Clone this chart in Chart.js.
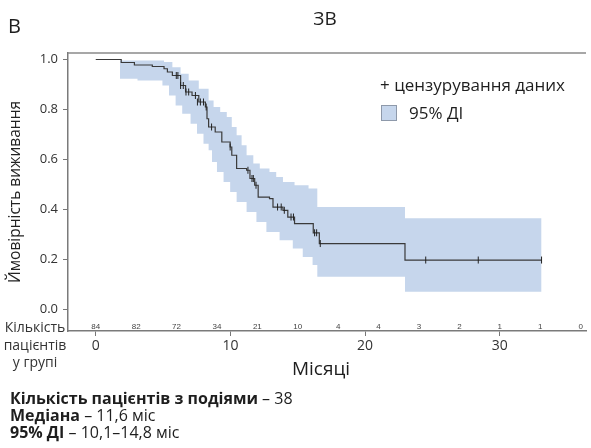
<!DOCTYPE html>
<html lang="uk">
<head>
<meta charset="utf-8">
<script src="https://cdn.jsdelivr.net/npm/chart.js@4.4.1/dist/chart.umd.min.js"></script>
<style>
  html, body { margin: 0; padding: 0; background: #fff; }
  #wrap { position: relative; width: 591px; height: 448px; font-family: "Open Sans", sans-serif; color: #1e1e1e; overflow: hidden; }
  #wrap canvas { position: absolute; left: 0; top: 0; }
  .txt { position: absolute; white-space: nowrap; line-height: 1; }
</style>
</head>
<body>
<div id="wrap">
  <canvas id="kmChart" width="591" height="448"></canvas>
  <div class="txt" style="left:8px;top:16px;font-size:20px;">В</div>
  <div class="txt" style="left:290px;width:70px;text-align:center;top:9px;font-size:19px;">ЗВ</div>

  <div class="txt" style="left:380px;top:76px;font-size:17px;">+ цензурування даних</div>
  <div style="position:absolute;left:381px;top:105px;width:16px;height:16px;background:#c6d6ec;border:1px solid #8e99aa;box-sizing:border-box;"></div>
  <div class="txt" style="left:409px;top:104px;font-size:17px;">95% ДІ</div>

  <div class="txt" style="left:0;width:70px;text-align:center;top:318px;font-size:14px;line-height:17.5px;color:#333;">Кількість<br>пацієнтів<br>у групі</div>

  <div class="txt" style="left:266px;width:110px;text-align:center;top:359px;font-size:19px;">Місяці</div>

  <div class="txt" style="left:10px;top:390px;font-size:16px;line-height:17px;">
    <b>Кількість пацієнтів з подіями</b> – 38<br>
    <b>Медіана</b> – 11,6 міс<br>
    <b>95% ДІ</b> – 10,1–14,8 міс
  </div>
</div>

<script>
// Крива Каплана-Мейєра (місяці, ймовірність після кроку)
const kmTime = [0, 1.89, 2.87, 4.2, 5.07, 5.32, 5.69, 6.3, 6.67, 7.15, 7.65, 8.14, 8.26, 8.38, 8.87, 9.36, 9.98, 10.1, 10.46, 11.2, 11.45, 11.8, 12.06, 12.9, 13.16, 13.9, 14.26, 14.76, 16.15, 16.6, 22.96, 33.1];
const kmSurv = [1.0, 0.988, 0.978, 0.972, 0.963, 0.95, 0.936, 0.896, 0.87, 0.856, 0.83, 0.81, 0.763, 0.73, 0.71, 0.67, 0.65, 0.617, 0.564, 0.557, 0.524, 0.497, 0.45, 0.444, 0.41, 0.397, 0.37, 0.344, 0.307, 0.264, 0.198, 0.198];

// 95% ДІ
const ciUpperTime = [1.8, 5.07, 5.69, 6.3, 6.9, 7.65, 8.38, 8.75, 9.24, 9.73, 10.1, 10.46, 10.83, 11.2, 11.7, 12.18, 12.9, 13.4, 13.9, 14.76, 15.8, 16.45, 22.96, 33.1];
const ciUpperVal  = [0.996, 0.99, 0.969, 0.943, 0.916, 0.883, 0.836, 0.81, 0.79, 0.77, 0.73, 0.697, 0.657, 0.617, 0.584, 0.564, 0.55, 0.53, 0.51, 0.497, 0.484, 0.41, 0.365, 0.365];
const ciLowerTime = [1.8, 3.1, 4.95, 5.44, 5.93, 6.42, 7.04, 7.52, 8.0, 8.38, 8.63, 9.0, 9.49, 9.98, 10.46, 11.2, 11.93, 12.67, 13.65, 14.63, 15.37, 16.1, 16.45, 22.96, 33.1];
const ciLowerVal  = [0.923, 0.916, 0.896, 0.856, 0.816, 0.783, 0.743, 0.703, 0.663, 0.637, 0.59, 0.55, 0.51, 0.47, 0.43, 0.39, 0.35, 0.31, 0.277, 0.244, 0.21, 0.178, 0.131, 0.071, 0.071];

// цензурування
const censorTime = [5.98, 6.1, 6.3, 6.5, 6.7, 6.9, 7.4, 7.55, 7.77, 8.0, 8.2, 8.6, 9.98, 11.3, 11.6, 11.7, 11.9, 13.5, 13.77, 14.0, 14.5, 14.68, 16.25, 16.4, 16.67, 24.5, 28.4, 33.1];
const censorSurv = [0.936, 0.936, 0.896, 0.896, 0.87, 0.87, 0.856, 0.83, 0.83, 0.83, 0.81, 0.73, 0.65, 0.557, 0.524, 0.524, 0.497, 0.41, 0.41, 0.397, 0.37, 0.37, 0.307, 0.307, 0.264, 0.198, 0.198, 0.198];

// кількість пацієнтів у групі
const riskTimes  = [0, 3, 6, 9, 12, 15, 18, 21, 24, 27, 30, 33, 36];
const riskCounts = [84, 82, 72, 34, 21, 10, 4, 4, 3, 2, 1, 1, 0];

const xTickValues = [0, 10, 20, 30];
const yTickValues = [0, 0.2, 0.4, 0.6, 0.8, 1.0];

const toPoints = (xs, ys) => xs.map((x, i) => ({ x, y: ys[i] }));

const riskTable = {
    id: 'riskTable',
    afterDatasetsDraw(chart) {
        const { ctx, chartArea, scales: { x } } = chart;
        ctx.save();
        ctx.font = '8px "Liberation Sans"';
        ctx.fillStyle = '#444';
        ctx.textAlign = 'center';
        ctx.textBaseline = 'alphabetic';
        riskTimes.forEach((t, i) => {
            ctx.fillText(String(riskCounts[i]), x.getPixelForValue(t), chartArea.bottom - 2);
        });
        // верхня рамка
        ctx.strokeStyle = '#8a8a8a';
        ctx.lineWidth = 1.5;
        ctx.beginPath();
        ctx.moveTo(chartArea.left, chartArea.top);
        ctx.lineTo(chartArea.right, chartArea.top);
        ctx.stroke();
        ctx.restore();
    }
};

const ctx = document.getElementById('kmChart').getContext('2d');

new Chart(ctx, {
    type: 'line',
    data: {
        datasets: [
            {
                label: 'цензурування даних',
                data: toPoints(censorTime, censorSurv),
                showLine: false,
                pointStyle: 'line',
                rotation: 90,
                pointRadius: 3.5,
                borderColor: '#222',
                borderWidth: 1
            },
            {
                label: 'ЗВ',
                data: toPoints(kmTime, kmSurv),
                stepped: true,
                borderColor: '#3a3a3a',
                borderWidth: 1.2,
                pointRadius: 0,
                fill: false
            },
            {
                label: '95% ДІ верх',
                data: toPoints(ciUpperTime, ciUpperVal),
                stepped: true,
                borderColor: 'transparent',
                borderWidth: 0,
                pointRadius: 0,
                fill: false
            },
            {
                label: '95% ДІ',
                data: toPoints(ciLowerTime, ciLowerVal),
                stepped: true,
                borderColor: 'transparent',
                borderWidth: 0,
                pointRadius: 0,
                backgroundColor: '#c6d6ec',
                fill: '-1'
            }
        ]
    },
    options: {
        responsive: false,
        animation: false,
        layout: { padding: { top: 53, left: 0, right: 0, bottom: 0 } },
        plugins: {
            legend: { display: false },
            tooltip: { enabled: false }
        },
        scales: {
            x: {
                type: 'linear',
                min: -2.06,
                max: 36.4,
                afterFit: scale => { scale.height = 117; },
                afterBuildTicks: scale => { scale.ticks = xTickValues.map(v => ({ value: v })); },
                grid: { drawOnChartArea: false, tickLength: 5, tickColor: '#777' },
                border: { color: '#7a7a7a', width: 1.5 },
                ticks: { font: { family: 'Open Sans', size: 14 }, color: '#333', padding: 2, maxRotation: 0 }
            },
            y: {
                min: -0.0858,
                max: 1.026,
                afterFit: scale => { scale.width = 68; },
                afterBuildTicks: scale => { scale.ticks = yTickValues.map(v => ({ value: v })); },
                grid: { drawOnChartArea: false, tickLength: 5, tickColor: '#777' },
                border: { color: '#7a7a7a', width: 1.5 },
                ticks: {
                    font: { family: 'Open Sans', size: 13 },
                    color: '#333',
                    padding: 5,
                    callback: v => v.toFixed(1)
                },
                title: {
                    display: true,
                    text: 'Ймовірність виживання',
                    font: { family: 'Open Sans', size: 15.5 },
                    color: '#222',
                    padding: { top: 6, bottom: 0 }
                }
            }
        }
    },
    plugins: [riskTable]
});
</script>
</body>
</html>
